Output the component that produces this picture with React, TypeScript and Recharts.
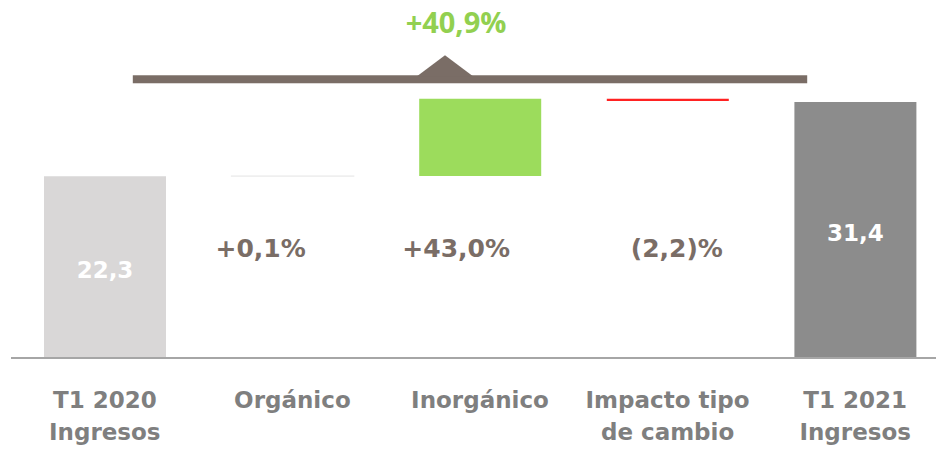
import React from "react";
import { BarChart, Bar, XAxis, YAxis, Cell, LabelList, ReferenceLine } from "recharts";

// waterfall: first and last are totals, the rest are changes
const categories = ["T1 2020\nIngresos", "Orgánico", "Inorgánico", "Impacto tipo\nde cambio", "T1 2021\nIngresos"];
const amounts = [22.3, 0.02, 9.5, -0.3, 31.4];
const kinds = ["total", "delta", "delta", "delta", "total"];
const barLabels = ["22,3", "+0,1%", "+43,0%", "(2,2)%", "31,4"];
const totalGrowth = "+40,9%";
const bracketLevel = 34.2;

const COLORS = ["#d9d7d7", "#efefef", "#9cdc5c", "#ff2222", "#8c8c8c"];
const BROWN = "#7a6d66";
const AXIS_GREY = "#7f7f7f";
// the change labels are not centred on their bars in the original
const PCT_DX = [0, -32, -24, 9, 0];

const rows = (() => {
  let running = 0;
  return categories.map((name, i) => {
    if (kinds[i] === "total") {
      running = amounts[i];
      return { name, idx: i, base: 0, value: amounts[i] };
    }
    const from = running;
    running += amounts[i];
    return { name, idx: i, base: Math.min(from, running), value: Math.abs(amounts[i]) };
  });
})();

function CategoryTick(props: any) {
  const { x, y, payload } = props;
  const lines = String(payload.value).split("\n");
  return (
    <text x={x} y={y} textAnchor="middle" fill={AXIS_GREY} fontFamily="DejaVu Sans" fontWeight="bold" fontSize={23}>
      {lines.map((l, i) => (
        <tspan key={i} x={x} dy={i === 0 ? 50 : 32}>
          {l}
        </tspan>
      ))}
    </text>
  );
}

function PctLabel(props: any) {
  const vb = props.viewBox || props;
  const i = Number(props.value);
  if (kinds[i] !== "delta") return null;
  const cx = vb.x + vb.width / 2 + PCT_DX[i];
  const bottom = vb.y + vb.height;
  return (
    <text x={cx} y={bottom - 101} textAnchor="middle" fill={BROWN} fontFamily="DejaVu Sans" fontWeight="bold" fontSize={25}>
      {barLabels[i]}
    </text>
  );
}

function TotalLabel(props: any) {
  const vb = props.viewBox || props;
  const i = Number(props.value);
  if (kinds[i] !== "total") return null;
  return (
    <text
      x={vb.x + vb.width / 2}
      y={vb.y + vb.height / 2 + 11}
      textAnchor="middle"
      fill="#ffffff"
      fontFamily="DejaVu Sans"
      fontWeight="bold"
      fontSize={23}
    >
      {barLabels[i]}
    </text>
  );
}

function Bracket(props: any) {
  const { x1, x2, y1 } = props;
  const mid = (x1 + x2) / 2;
  const tip = mid - 35;
  return (
    <g>
      <rect x={x1 + 28} y={y1 - 4} width={x2 - x1 - 76} height={8} fill={BROWN} />
      <polygon points={`${tip - 28},${y1 - 3} ${tip},${y1 - 24} ${tip + 28},${y1 - 3}`} fill={BROWN} />
      <text x={mid - 24} y={y1 - 46} textAnchor="middle" fill="#92d050" fontFamily="Open Sans" fontWeight="bold" fontSize={29}>
        {totalGrowth}
      </text>
    </g>
  );
}

export default function App() {
  return (
    <div style={{ position: "absolute", left: 0, top: 0, width: 936, height: 456, overflow: "hidden", background: "#fff" }}>
      <BarChart width={950} height={456} data={rows} margin={{ top: 32, right: 1, left: 11, bottom: 0 }} barSize={122}>
        <XAxis
          dataKey="name"
          height={98}
          interval={0}
          axisLine={{ stroke: "#a6a6a6", strokeWidth: 2 }}
          tickLine={false}
          tickSize={0}
          tickMargin={0}
          tick={<CategoryTick />}
        />
        <YAxis hide domain={[0, 40]} />
        <Bar dataKey="base" stackId="w" fill="transparent" isAnimationActive={false}>
          <LabelList dataKey="idx" content={PctLabel} />
        </Bar>
        <Bar dataKey="value" stackId="w" isAnimationActive={false}>
          {rows.map((r, i) => (
            <Cell key={r.name} fill={COLORS[i]} stroke={i === 1 ? COLORS[i] : "none"} strokeWidth={i === 1 ? 1.5 : 0} />
          ))}
          <LabelList dataKey="idx" content={TotalLabel} />
        </Bar>
        <ReferenceLine
          segment={[
            { x: categories[0], y: bracketLevel },
            { x: categories[4], y: bracketLevel },
          ]}
          shape={Bracket}
        />
      </BarChart>
    </div>
  );
}
